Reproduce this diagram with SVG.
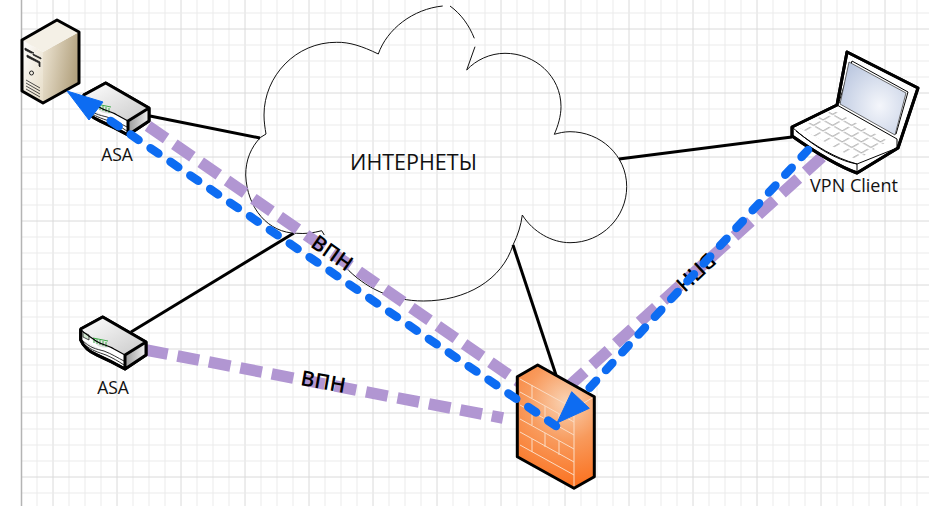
<svg xmlns="http://www.w3.org/2000/svg" width="929" height="506" viewBox="0 0 929 506">
<style>
.minor{stroke:#ebebeb;stroke-width:1;fill:none}
.major{stroke:#dadada;stroke-width:1;fill:none}
.cloud{fill:none;stroke:#111;stroke-width:1}
.link{stroke:#000;stroke-width:3;fill:none}
.vpn{stroke:#b196d2;stroke-width:11.500;stroke-dasharray:22 10;fill:none}
.tun{stroke:#0d6cf2;stroke-width:8.500;stroke-linecap:round;stroke-dasharray:9.500 14.600;fill:none}
.head{fill:#0d6cf2;stroke:#0d6cf2;stroke-width:1;stroke-linejoin:round}
.lbl{font-family:"Open Sans","Noto Sans",sans-serif;fill:#111;font-size:17.500px;text-anchor:middle}
.vlbl{font-family:"Open Sans","Noto Sans",sans-serif;fill:#000;font-size:21px;font-weight:600;text-anchor:middle}
.edge{stroke:#000;stroke-width:3;stroke-linejoin:round}
.thin{stroke:#000;stroke-width:1;fill:none}
.brick{stroke:#fbdcc4;stroke-width:1;fill:none}
</style>
<defs>
<linearGradient id="rtop" x1="0" y1="0" x2="1" y2="1"><stop offset="0" stop-color="#fff"/><stop offset="1" stop-color="#c9c9c9"/></linearGradient>
<linearGradient id="rside" x1="0" y1="0" x2="1" y2="0"><stop offset="0" stop-color="#9a9a9a"/><stop offset="1" stop-color="#f2f2f2"/></linearGradient>
<linearGradient id="sfront" x1="0" y1="0" x2="1" y2="1"><stop offset="0" stop-color="#fff"/><stop offset="1" stop-color="#e6dcc6"/></linearGradient>
<linearGradient id="sside" x1="0" y1="0" x2="1" y2="0.3"><stop offset="0" stop-color="#efe7d6"/><stop offset="1" stop-color="#b3a27f"/></linearGradient>
<radialGradient id="fw" gradientUnits="userSpaceOnUse" cx="566" cy="402" r="88"><stop offset="0" stop-color="#f9d3b4"/><stop offset="0.45" stop-color="#f89a5c"/><stop offset="1" stop-color="#fb6f1c"/></radialGradient>
<radialGradient id="scr" cx="0.6" cy="0.6" r="0.7"><stop offset="0" stop-color="#f4f6fb"/><stop offset="1" stop-color="#bcc8e0"/></radialGradient>
<pattern id="keys" width="11" height="11" patternUnits="userSpaceOnUse" patternTransform="matrix(0.87 0.5 -0.87 0.5 0 0)"><path d="M1 10H10V2" fill="none" stroke="#aaa" stroke-width="1.200"/></pattern>
<g id="router">
<path class="edge" fill="#fff" d="M80.700 329V340C84 348 90 352 97 355C106 359 116 364 125 369L146 355V342L102.700 317Z"/>
<path fill="url(#rtop)" d="M80.700 329L102.700 317L146 342L125 355L114 349C108 346 104 349 98 346Z"/>
<path fill="url(#rside)" d="M125 355L146 342V355L125 369Z"/>
<path fill="#eee" stroke="#333" stroke-width="1" d="M82 340C90 348 96 349 104 351C112 354 118 358 124 361M84 344C92 351 98 352 106 355C113 358 118 361 124 365"/>
<path fill="#cfe6cf" stroke="#222" stroke-width="0.800" d="M83 332l6 3v5l-6-3z"/>
<path stroke="#3fae4a" stroke-width="1" fill="none" d="M94 343v-5M97 344v-5M100 345v-5M103 346v-5M106 347v-5M93 338l15 3"/>
<path class="edge" fill="none" d="M80.700 329L102.700 317L146 342L125 355L125 369M146 342V355L125 369C116 364 106 359 97 355C90 352 84 348 80.700 340V329"/>
<path stroke="#000" stroke-width="1.200" fill="none" d="M80.700 329C84 334 90 336 96 341C102 345 108 345 114 349L125 355"/>
</g>
</defs>
<rect width="929" height="506" fill="#fff"/>
<g id="grid">
<path class="minor" d="M37 0V506M69 0V506M85 0V506M101 0V506M133 0V506M149 0V506M165 0V506M197 0V506M213 0V506M229 0V506M261 0V506M277 0V506M293 0V506M325 0V506M341 0V506M357 0V506M389 0V506M405 0V506M421 0V506M453 0V506M469 0V506M485 0V506M517 0V506M533 0V506M549 0V506M581 0V506M597 0V506M613 0V506M645 0V506M661 0V506M677 0V506M709 0V506M725 0V506M741 0V506M773 0V506M789 0V506M805 0V506M837 0V506M853 0V506M869 0V506M901 0V506M917 0V506"/>
<path class="major" d="M53 0V506M117 0V506M181 0V506M245 0V506M309 0V506M373 0V506M437 0V506M501 0V506M565 0V506M629 0V506M693 0V506M757 0V506M821 0V506M885 0V506"/>
<path class="minor" d="M21 13H929M21 45H929M21 61H929M21 77H929M21 109H929M21 125H929M21 141H929M21 173H929M21 189H929M21 205H929M21 237H929M21 253H929M21 269H929M21 301H929M21 317H929M21 333H929M21 365H929M21 381H929M21 397H929M21 429H929M21 445H929M21 461H929M21 493H929"/>
<path class="major" d="M21 29H929M21 93H929M21 157H929M21 221H929M21 285H929M21 349H929M21 413H929M21 477H929"/>
<path d="M21.500 0V506" stroke="#b4b4b4" stroke-width="1.500" fill="none"/>
</g>
<g id="cloud">
<path class="cloud" d="M442.700 6C413 9 387 29 378.300 54C362 46 349 42 336.700 42.300C296 42 264 76 264 115C264 122 265 128 266 134L260.700 137.300C251 147 245.700 160 245.700 175C247 208 268 233 296.700 233.300C305 234 313 233 321.700 230.700L324.300 235M345 266.700C365 288 392 301 423.300 301C466 301 502 280 513 245C518 235 521 225 522.300 215C533 232 552 242.700 570 242.700C602 242.700 626.700 217 626.700 186.700C626.700 155 600 131.700 570 131.700C564 131.700 559 133 554.300 134.300C558 126 561 116 561 106.700C561 76 535 53.300 505 53.300C490 53.300 476 60 466.700 70L475 46.700M474.300 38.300C469 25 461 14 450 6"/>
<text class="lbl" x="413.500" y="170" style="font-size:21.500px">ИНТЕРНЕТЫ</text>
</g>
<g id="connectors">
<path class="link" d="M150 116L260 138"/>
<path class="link" d="M131 332L294 233"/>
<path class="link" d="M619 159L792 137"/>
<path class="link" d="M513 245L556 375"/>
<path class="vpn" d="M148 126L522 384"/>
<path class="vpn" d="M146 350L503 418"/>
<path class="vpn" d="M822 157L569 386"/>
</g>
<g id="server">
<path fill="url(#sfront)" d="M22 40L43 52V103L22 91Z"/>
<path fill="url(#sside)" d="M43 52L79 32V83L43 103Z"/>
<path fill="#f4f0e6" d="M22 40L57 20L79 32L43 52Z"/>
<path class="edge" fill="none" d="M22 40L57 20L79 32V83L43 103L22 91Z"/>
<path d="M25 50l6 3 3 0 -9-5zM33 54l8 4v1l-8-4zM27 55l13 7v5l-1-1v-3l-12-6zM26 83l14 8M26 86l14 8M26 89l14 8M26 80l14 8" fill="#222" stroke="#222" stroke-width="0.800"/>
<circle cx="31.500" cy="73" r="2" fill="none" stroke="#222" stroke-width="1"/>
</g>
<g id="asa-top">
<use href="#router" transform="translate(3 -234)"/>
<text class="lbl" x="117" y="161">ASA</text>
</g>
<g id="asa-bottom">
<use href="#router"/>
<text class="lbl" x="113" y="394">ASA</text>
</g>
<g id="firewall">
<path fill="url(#fw)" d="M517.300 376.700L537.700 365L594.300 396.700V476.700L574 488.300L517.300 456.700Z"/>
<path class="brick" d="M520 379L574 408.500L594 397M574 408.500V488M520 392L574 422M520 405L574 435M520 419L574 449M520 432L574 462M520 445L574 475M532 385V398M545 406V419M559 414V428M532 412V425M545 433V447M559 441V455M532 439V452"/>
<path class="edge" fill="none" d="M517.300 376.700L537.700 365L594.300 396.700V476.700L574 488.300L517.300 456.700Z"/>
</g>
<g id="laptop">
<path fill="#fff" class="edge" d="M792 127L837 105L847 52L918 88L898 148L857 173C835 165 812 150 792 136Z"/>
<path fill="#fff" stroke="#000" stroke-width="1" d="M852 61L908 92L896 134L839 102Z"/>
<path fill="url(#scr)" stroke="#444" stroke-width="0.800" d="M849 62L906 93L895 135L840 104Z"/>
<path fill="url(#keys)" d="M800 128L833 110L888 141L857 160Z"/>
<path class="thin" d="M792 127C812 145 835 160 857 164L897 148M857 164V172M837 105L897 139V148M796 131C815 146 835 158 857 164"/>
<path class="edge" fill="none" d="M792 127L837 105L847 52L918 88L898 148L857 173C835 165 812 150 792 136Z"/>
<text class="lbl" x="854" y="192" style="font-size:18px">VPN Client</text>
</g>
<g id="labels">
<text class="vlbl" transform="translate(328 259) rotate(35)">ВПН</text>
<text class="vlbl" transform="translate(322 389) rotate(10)">ВПН</text>
<text class="vlbl" transform="translate(691 267) rotate(137)">ВПН</text>
</g>
<g id="connectors-top">
<path class="tun" d="M556 426L100 113.500"/>
<polygon class="head" points="67,91 103,102 89,120"/>
<path class="tun" d="M808 150L583 395"/>
<polygon class="head" points="557,423 571.700,391.700 589.300,408.300"/>
</g>
</svg>
